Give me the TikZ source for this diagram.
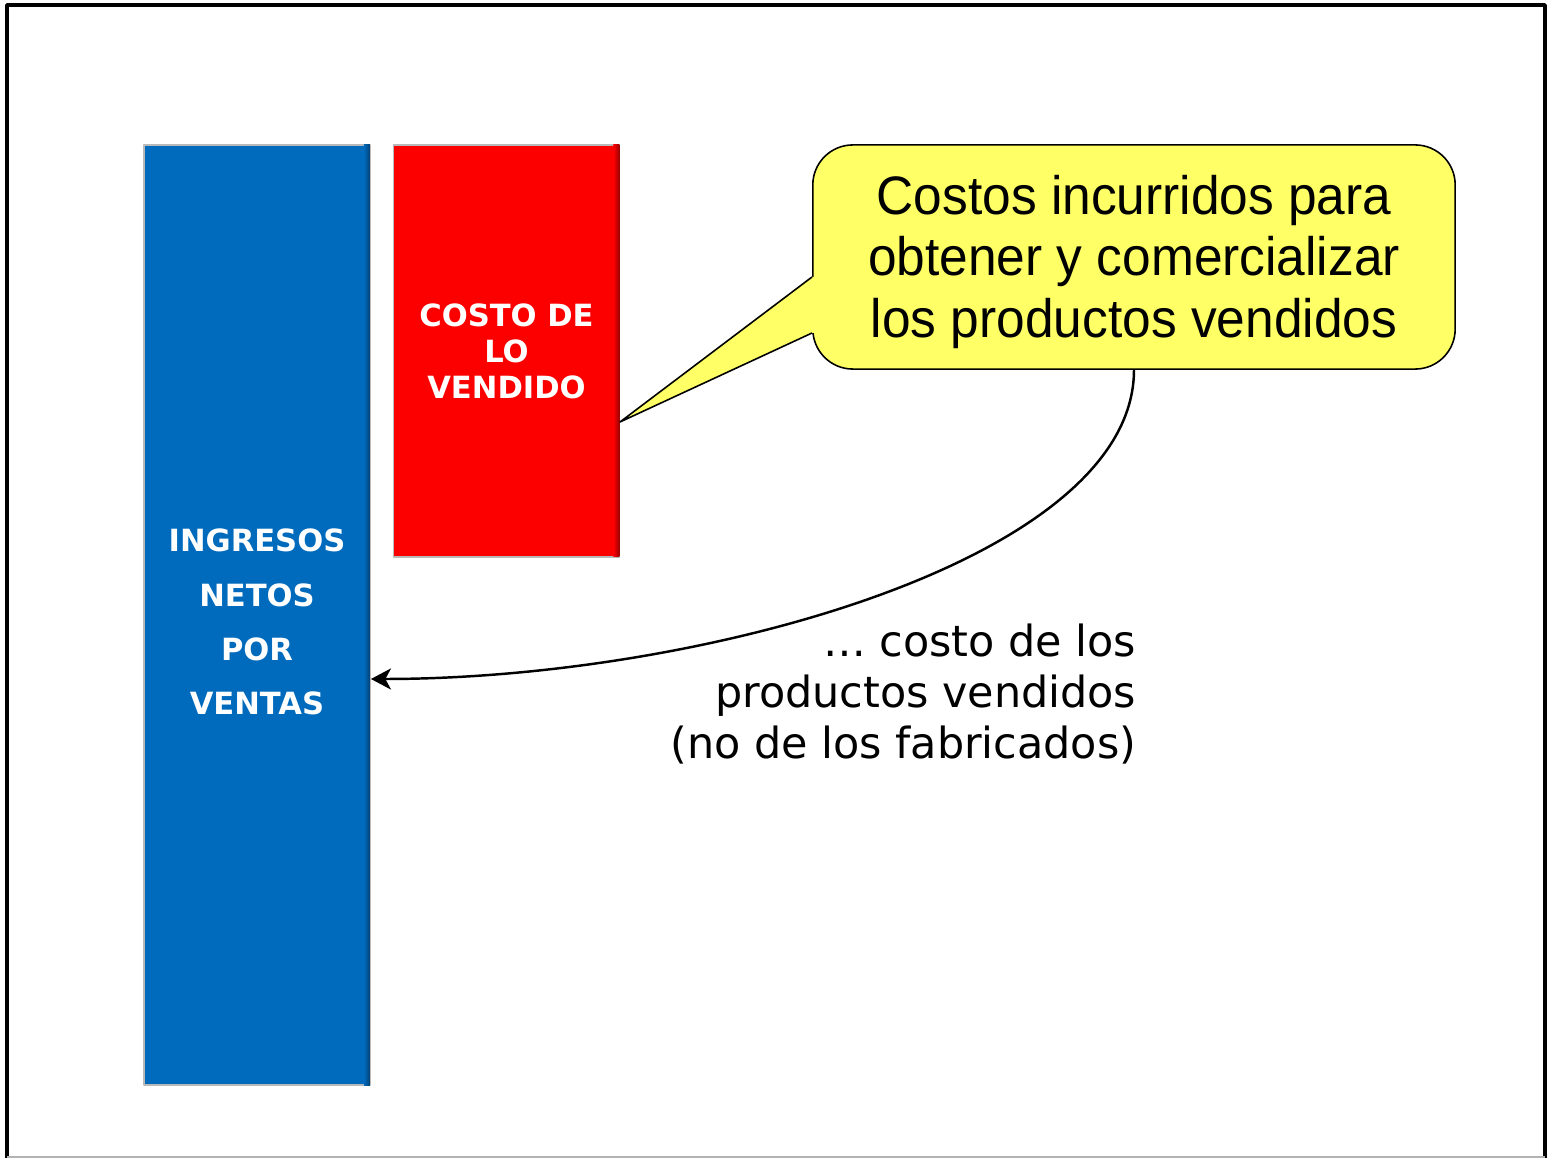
\documentclass[tikz,border=0pt]{standalone}
\usepackage{fontspec}
\setmainfont{DejaVu Sans}
\newfontfamily\notefont[FakeStretch=0.95]{Liberation Sans}
\usetikzlibrary{arrows.meta,calc}
\definecolor{barblue}{RGB}{0,107,189}
\definecolor{barred}{RGB}{252,0,0}
\definecolor{noteyellow}{RGB}{255,255,102}
\tikzset{
	bar/.style={draw=gray!55, line width=0.5pt, minimum width=2.26cm, minimum height=#1,
		inner sep=0pt, text=white, align=center},
	bartext/.style={inner sep=0pt, text=white, align=center},
	note/.style={draw, line width=0.45pt, fill=noteyellow, rounded corners=0.4cm,
		minimum width=6.42cm, minimum height=2.24cm, inner sep=0pt},
	notetext/.style={inner sep=0pt, align=center, font=\notefont\fontsize{15.4}{17.6}\selectfont}
}
\begin{document}
\begin{tikzpicture}[x=0.01cm, y=-0.01cm, >=Stealth, line join=round]
	\useasboundingbox (0,0) rectangle (1547,1158);
	% marco
	\draw[line width=1pt] (7,1158)--(7,5)--(1545,5)--(1545,1158);
	\draw[gray!60, line width=0.3pt] (7,1157)--(1545,1157);
	% barras
	\node[bar=9.4cm, fill=barblue] (ingresos) at (257,615) {};
	\node[bar=4.12cm, fill=barred, font=\bfseries\fontsize{8.7}{10.2}\selectfont] (costo) at (506.5,351) {COSTO DE\\LO\\VENDIDO};
	\shade[left color=barblue, right color=barblue!60!black] ($(ingresos.north east)+(-7,1)$) rectangle ($(ingresos.south east)+(-1,-1)$);
	\shade[left color=barred, right color=barred!60!black] ($(costo.north east)+(-7,1)$) rectangle ($(costo.south east)+(-1,-1)$);
	\node[bartext, font=\bfseries\fontsize{8.7}{15.4}\selectfont] (ingresostexto) at ($(ingresos)+(0,7)$) {INGRESOS\\NETOS\\POR\\VENTAS};
	% globo
	\node[note] (nota) at (1134,257) {};
	\coordinate (tip) at (620,422);
	\fill[noteyellow] ($(nota.west)+(6,20)$)--($(nota.west)+(-1,20)$)--(tip)--($(nota.west)+(-1,76)$)--($(nota.west)+(6,76)$)--cycle;
	\draw[line width=0.45pt] ($(nota.west)+(0,20)$)--(tip)--($(nota.west)+(0,76)$);
	\node[notetext] (notatexto) at ($(nota)+(0,5)$) {Costos incurridos para\\obtener y comercializar\\los productos vendidos};
	% flecha
	\draw[line width=0.7pt, -{Stealth[length=5.7pt,width=6pt,inset=1.6pt]}] (nota.south) .. controls +(0,190) and +(330,0) .. ($(ingresos.east)+(0,64)$);
	\node[anchor=east, align=right, inner sep=0pt, font=\fontsize{12.2}{14.5}\selectfont] (aclaracion) at (1137,694) {… costo de los\\productos vendidos\\(no de los fabricados)};
\end{tikzpicture}
\end{document}
